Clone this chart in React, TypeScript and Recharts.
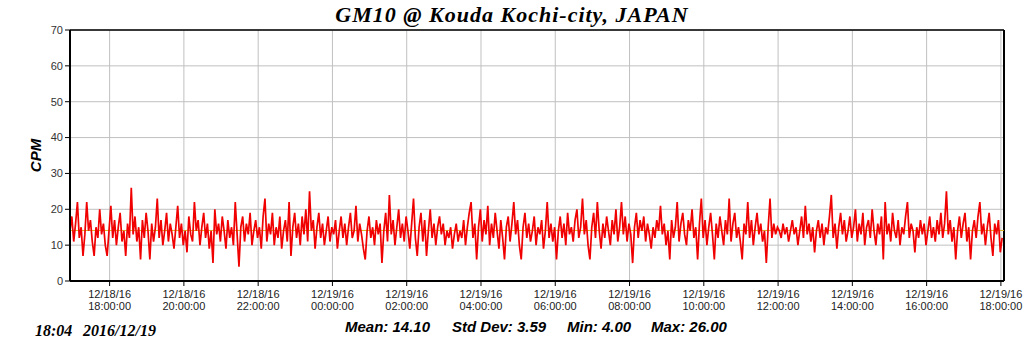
import React from "react";
import { LineChart, Line, XAxis, YAxis, CartesianGrid, ReferenceLine } from "recharts";

// CPM readings, one every 3 minutes starting 12/18/16 16:56
const startMinute = 1016; // minutes after 12/18 00:00
const stepMinutes = 3;
const cpm = [
  14, 18, 11, 16, 22, 12, 15, 7, 13, 22, 14, 17, 11, 7, 15, 12, 20, 13, 16, 10,
  7, 14, 21, 12, 17, 10, 15, 19, 11, 14, 7, 16, 12, 26, 13, 18, 11, 15, 6, 17,
  12, 19, 14, 6, 16, 11, 15, 23, 12, 17, 10, 14, 19, 11, 16, 13, 9, 15, 21, 12,
  16, 10, 14, 8, 18, 13, 11, 22, 14, 17, 10, 15, 19, 12, 16, 9, 14, 5, 20, 13,
  16, 11, 18, 14, 9, 17, 12, 15, 10, 22, 13, 4, 15, 18, 11, 16, 13, 19, 10, 14,
  17, 12, 15, 9, 18, 23, 11, 16, 13, 19, 10, 15, 12, 18, 9, 14, 17, 11, 22, 7,
  15, 19, 12, 16, 10, 18, 13, 20, 11, 25, 14, 17, 9, 15, 19, 12, 16, 10, 14, 18,
  11, 15, 13, 17, 9, 14, 18, 12, 16, 10, 15, 19, 12, 14, 21, 11, 16, 13, 9, 6,
  14, 18, 12, 15, 10, 17, 13, 16, 5, 14, 19, 11, 24, 13, 17, 10, 15, 20, 12, 16,
  11, 18, 14, 9, 16, 23, 12, 7, 15, 19, 11, 17, 7, 14, 20, 12, 16, 10, 15, 18,
  13, 16, 10, 14, 12, 15, 9, 13, 16, 11, 14, 12, 17, 10, 15, 19, 22, 12, 16, 6,
  15, 20, 11, 17, 13, 21, 10, 16, 12, 19, 14, 9, 17, 12, 6, 15, 18, 11, 16, 22,
  13, 17, 10, 6, 15, 19, 12, 16, 11, 14, 18, 10, 15, 13, 17, 9, 14, 22, 12, 16,
  11, 15, 6, 14, 18, 12, 16, 10, 19, 13, 15, 11, 17, 20, 12, 15, 23, 13, 17, 10,
  6, 15, 19, 12, 22, 14, 9, 16, 12, 18, 14, 10, 17, 13, 20, 11, 15, 22, 13, 18,
  11, 16, 13, 5, 15, 19, 12, 17, 14, 18, 11, 16, 13, 9, 15, 12, 17, 14, 21, 13,
  16, 10, 14, 6, 17, 12, 15, 22, 11, 16, 19, 13, 10, 17, 14, 20, 12, 15, 6, 16,
  23, 12, 17, 10, 15, 19, 13, 6, 16, 12, 18, 14, 10, 17, 13, 23, 11, 16, 19, 12,
  15, 11, 6, 16, 13, 22, 12, 17, 10, 15, 19, 13, 16, 11, 14, 5, 15, 23, 12, 16,
  13, 15, 14, 12, 16, 13, 15, 11, 14, 17, 13, 15, 10, 14, 18, 12, 21, 13, 16, 11,
  15, 8, 14, 17, 12, 16, 10, 15, 13, 18, 24, 12, 16, 9, 15, 19, 13, 17, 11, 14,
  18, 12, 15, 20, 11, 16, 13, 19, 10, 15, 17, 12, 20, 14, 10, 16, 13, 18, 6, 22,
  13, 16, 11, 19, 14, 12, 17, 10, 15, 13, 18, 22, 12, 16, 14, 8, 15, 12, 17, 13,
  16, 10, 14, 18, 12, 15, 11, 17, 13, 19, 12, 16, 25, 13, 17, 11, 15, 6, 14, 18,
  12, 16, 19, 11, 15, 6, 14, 17, 12, 18, 22, 13, 16, 10, 15, 19, 12, 7, 16, 13,
  17, 8, 12,
];
const meanCpm = 14.1;
const xTicks = [1080, 1200, 1320, 1440, 1560, 1680, 1800, 1920, 2040, 2160, 2280, 2400, 2520];
const yTicks = [0, 10, 20, 30, 40, 50, 60, 70];
const xDomainEnd = 2525;
const stats = ["Mean: 14.10", "Std Dev: 3.59", "Min: 4.00", "Max: 26.00"];

const data = cpm.map((v, i) => ({ t: startMinute + i * stepMinutes, cpm: v }));

const pad = (n: number) => String(n).padStart(2, "0");

const TimeTick = (props: any) => {
  const { x, y, payload } = props;
  const t = payload.value as number;
  const day = 18 + Math.floor(t / 1440);
  const hour = Math.floor((t % 1440) / 60);
  return (
    <g transform={`translate(${x},${y})`}>
      <text textAnchor="middle" fontSize={11} fontFamily="'Liberation Sans', Arial, sans-serif" fill="#222">
        <tspan x={0} dy={10}>{`12/${day}/16`}</tspan>
        <tspan x={0} dy={12}>{`${pad(hour)}:00:00`}</tspan>
      </text>
    </g>
  );
};

const statLeft = [345, 452, 567, 651];
const serif = "'Liberation Serif', 'Times New Roman', serif";
const sans = "'Liberation Sans', Arial, sans-serif";

export default function App() {
  return (
    <div style={{ position: "absolute", left: 0, top: 0, width: 1024, height: 351, background: "#fff" }}>
      <div
        style={{
          position: "absolute",
          left: 0,
          width: 1024,
          top: 2,
          textAlign: "center",
          fontFamily: serif,
          fontWeight: "bold",
          fontStyle: "italic",
          fontSize: 22,
          letterSpacing: 1,
          lineHeight: "26px",
          color: "#000",
        }}
      >
        GM10 @ Kouda Kochi-city, JAPAN
      </div>
      <LineChart width={1024} height={351} data={data} margin={{ top: 30, right: 20, left: 0, bottom: 0 }}>
        <CartesianGrid stroke="#c0c0c0" vertical horizontal />
        <XAxis
          dataKey="t"
          type="number"
          domain={[startMinute, xDomainEnd]}
          ticks={xTicks}
          height={70}
          tick={<TimeTick />}
          tickSize={5}
          tickMargin={2}
          axisLine={{ stroke: "#000", strokeWidth: 2 }}
          tickLine={{ stroke: "#000" }}
          interval={0}
        />
        <YAxis
          domain={[0, 70]}
          ticks={yTicks}
          width={70}
          tickSize={5}
          tickMargin={2}
          tick={{ fontSize: 11, fill: "#333", fontFamily: sans }}
          axisLine={{ stroke: "#000", strokeWidth: 2 }}
          tickLine={{ stroke: "#000" }}
          label={{
            value: "CPM",
            angle: -90,
            position: "insideLeft",
            offset: 36,
            style: {
              fontSize: 15,
              fontWeight: "bold",
              fontStyle: "italic",
              fontFamily: sans,
              fill: "#000",
              textAnchor: "middle",
            },
          }}
        />
        <ReferenceLine y={70} stroke="#000" strokeWidth={1.5} />
        <ReferenceLine x={xDomainEnd} stroke="#000" strokeWidth={2} />
        <ReferenceLine y={meanCpm} stroke="#d8b020" strokeWidth={1} />
        <Line
          type="linear"
          dataKey="cpm"
          stroke="#f00000"
          strokeWidth={1.7}
          dot={false}
          isAnimationActive={false}
        />
      </LineChart>
      <div
        style={{
          position: "absolute",
          left: 35,
          top: 322,
          fontFamily: serif,
          fontWeight: "bold",
          fontStyle: "italic",
          fontSize: 16,
          whiteSpace: "pre",
          color: "#000",
        }}
      >
        18:04
      </div>
      <div
        style={{
          position: "absolute",
          left: 83,
          top: 322,
          fontFamily: serif,
          fontWeight: "bold",
          fontStyle: "italic",
          fontSize: 16,
          whiteSpace: "pre",
          color: "#000",
        }}
      >
        2016/12/19
      </div>
      {stats.map((s, i) => (
        <div
          key={s}
          style={{
            position: "absolute",
            left: statLeft[i],
            top: 318,
            fontFamily: sans,
            fontWeight: "bold",
            fontStyle: "italic",
            fontSize: 15,
            whiteSpace: "pre",
            color: "#000",
          }}
        >
          {s}
        </div>
      ))}
    </div>
  );
}
